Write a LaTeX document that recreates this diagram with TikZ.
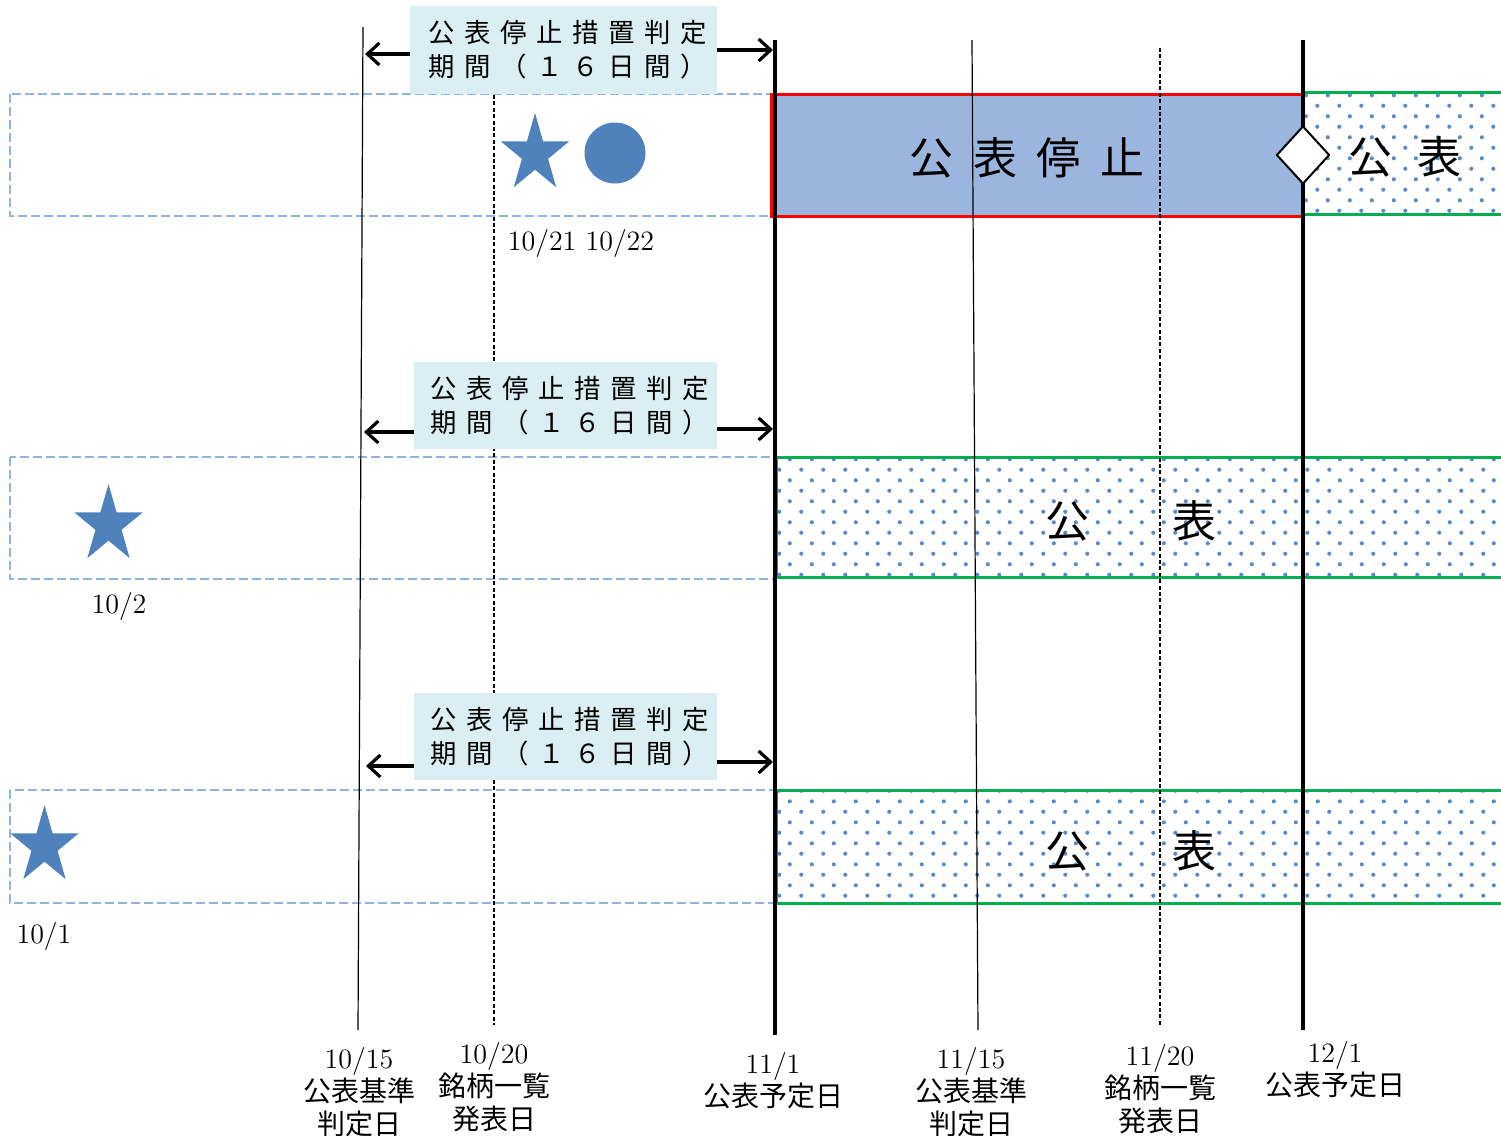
\documentclass[tikz,border=0pt]{standalone}
\usepackage{fontspec}
\newfontfamily\jp{Noto Sans CJK JP}
\usetikzlibrary{arrows.meta,shapes.geometric,patterns.meta}
\definecolor{dashblue}{RGB}{141,180,226}
\definecolor{starblue}{RGB}{79,129,189}
\definecolor{boxblue}{RGB}{218,238,243}
\definecolor{hatchblue}{RGB}{155,182,222}
\definecolor{dotblue}{RGB}{90,138,200}
\definecolor{pubgreen}{RGB}{0,176,80}
\tikzdeclarepattern{
  name=bluedots,
  type=colored,
  bounding box={(0pt,0pt) and (10.75pt,10.7pt)},
  tile size={(10.75pt,10.7pt)},
  code={
    \fill[dotblue] (2.7pt,2.7pt) circle (1.05pt);
    \fill[dotblue] (8.075pt,8.05pt) circle (1.05pt);
  }
}
\newcommand\spc[1]{\makebox[18pt]{#1}}
\newcommand\suspendtext{\hspace*{4pt}\spc{公}\spc{表}\spc{停}\spc{止}\spc{措}\spc{置}\spc{判}\spc{定}\\\hspace*{4pt}\spc{期}\spc{間}\spc{（}\spc{１}\spc{６}\spc{日}\spc{間}\spc{）}}
\newcommand\bluestar[2]{\fill[starblue] ({#1},{#2-41}) \foreach \k in {1,...,9}{ -- ({#1+(mod(\k,2)==0 ? 36 : 13.75)*sin(36*\k)},{#2-(mod(\k,2)==0 ? 41 : 15.66)*cos(36*\k)}) } -- cycle;}
\begin{document}
\begin{tikzpicture}[x=0.5pt,y=-0.5pt,
  vthin/.style={black, line width=0.6pt},
  vdash/.style={black, line width=0.6pt, dash pattern=on 2pt off 1.2pt},
  vthick/.style={black, line width=1.8pt},
  pending/.style={draw=dashblue, line width=1.1pt, dash pattern=on 4.5pt off 2pt},
  labelbox/.style={fill=boxblue, inner sep=0pt, align=center, font=\jp\fontsize{13.2}{17}\selectfont},
  span/.style={-{Straight Barb[length=6pt,width=11pt]}, line width=1.6pt},
  greenline/.style={pubgreen, line width=1.5pt},
  datelbl/.style={align=center, font=\fontsize{14}{16.5}\selectfont, inner sep=0pt},
  bigjp/.style={font=\jp\fontsize{22}{26}\selectfont, inner sep=0pt}
]
\useasboundingbox (0,0) rectangle (1501,1136);

% pending (dashed) bands
\draw[pending] (10,94) rectangle (771,216);
\draw[pending] (10,457) rectangle (775,579);
\draw[pending] (10,790) rectangle (775,903);

% row 1: suspension and publication
\fill[hatchblue] (771,94) rectangle (1302,216);
\draw[red, line width=1.5pt] (771,94) rectangle (1302,216);
\fill[pattern=bluedots] (1303,92) rectangle (1501,214);
\draw[greenline] (1303,92) -- (1501,92);
\draw[greenline] (1303,214) -- (1501,214);

% row 2 publication
\fill[pattern=bluedots] (776,457) rectangle (1501,577);
\draw[greenline] (1501,457) -- (776,457) -- (776,577) -- (1501,577);
% row 3 publication
\fill[pattern=bluedots] (776,790) rectangle (1501,903);
\draw[greenline] (1501,790) -- (776,790) -- (776,903) -- (1501,903);

% vertical date lines
\coordinate (v1t) at (363,27);   \coordinate (v1b) at (358,1030);
\coordinate (v2t) at (494,95);   \coordinate (v2b) at (494,1025);
\coordinate (v3t) at (775,40);   \coordinate (v3b) at (775,1035);
\coordinate (v4t) at (972,40);   \coordinate (v4b) at (978,1030);
\coordinate (v5t) at (1160,48);  \coordinate (v5b) at (1160,1025);
\coordinate (v6t) at (1303,40);  \coordinate (v6b) at (1303,1030);
\draw[vthin] (v1t) -- (v1b);
\draw[vdash] (v2t) -- (v2b);
\draw[vthick] (v3t) -- (v3b);
\draw[vthin] (v4t) -- (v4b);
\draw[vdash] (v5t) -- (v5b);
\draw[vthick] (v6t) -- (v6b);

% texts in bands
\node[bigjp] (susp) at (1027,158) {\makebox[31.8pt]{公}\makebox[31.8pt]{表}\makebox[31.8pt]{停}\makebox[31.8pt]{止}};
\node[bigjp] (pub1) at (1405,157) {\makebox[35pt]{公}\makebox[35pt]{表}};
\node[bigjp] (pub2) at (1131,521) {\makebox[63.5pt]{公}\makebox[63.5pt]{表}};
\node[bigjp] (pub3) at (1131,851) {\makebox[63.5pt]{公}\makebox[63.5pt]{表}};

% diamond
\node[diamond, draw=black, fill=white, line width=1pt, minimum width=26.5pt, minimum height=29pt, inner sep=0pt] (dia) at (1303,155) {};

% markers
\bluestar{535}{154}
\node[circle, fill=starblue, minimum size=30.5pt, inner sep=0pt] (dot) at (615,153) {};
\bluestar{108.5}{525}
\bluestar{44.5}{846}

\node[datelbl] (d1) at (581,243) {10/21 10/22};
\node[datelbl] (d2) at (119,606) {10/2};
\node[datelbl] (d3) at (44,936) {10/1};

% judgement period boxes
\node[labelbox, minimum width=153.5pt, minimum height=44pt] (box1) at (563.5,50) {\suspendtext};
\node[labelbox, minimum width=151.5pt, minimum height=43.5pt] (box2) at (565.5,405.5) {\suspendtext};
\node[labelbox, minimum width=151.5pt, minimum height=43.5pt] (box3) at (565.5,736.5) {\suspendtext};

\coordinate (a1l) at (365,54);  \coordinate (a1r) at (773,50);
\coordinate (a2l) at (364,432); \coordinate (a2r) at (773,429);
\coordinate (a3l) at (366,766); \coordinate (a3r) at (773,762);
\draw[span] (box1.west |- a1l) -- (a1l);
\draw[span] (box1.east |- a1r) -- (a1r);
\draw[span] (box2.west |- a2l) -- (a2l);
\draw[span] (box2.east |- a2r) -- (a2r);
\draw[span] (box3.west |- a3l) -- (a3l);
\draw[span] (box3.east |- a3r) -- (a3r);

% bottom date labels
\node[datelbl] (b1) at (359,1092) {10/15\\{\jp 公表基準}\\{\jp 判定日}};
\node[datelbl] (b2) at (494,1087) {10/20\\{\jp 銘柄一覧}\\{\jp 発表日}};
\node[datelbl] (b3) at (773,1081) {11/1\\{\jp 公表予定日}};
\node[datelbl] (b4) at (971,1092) {11/15\\{\jp 公表基準}\\{\jp 判定日}};
\node[datelbl] (b5) at (1160,1089) {11/20\\{\jp 銘柄一覧}\\{\jp 発表日}};
\node[datelbl] (b6) at (1335,1070) {12/1\\{\jp 公表予定日}};
\end{tikzpicture}
\end{document}
